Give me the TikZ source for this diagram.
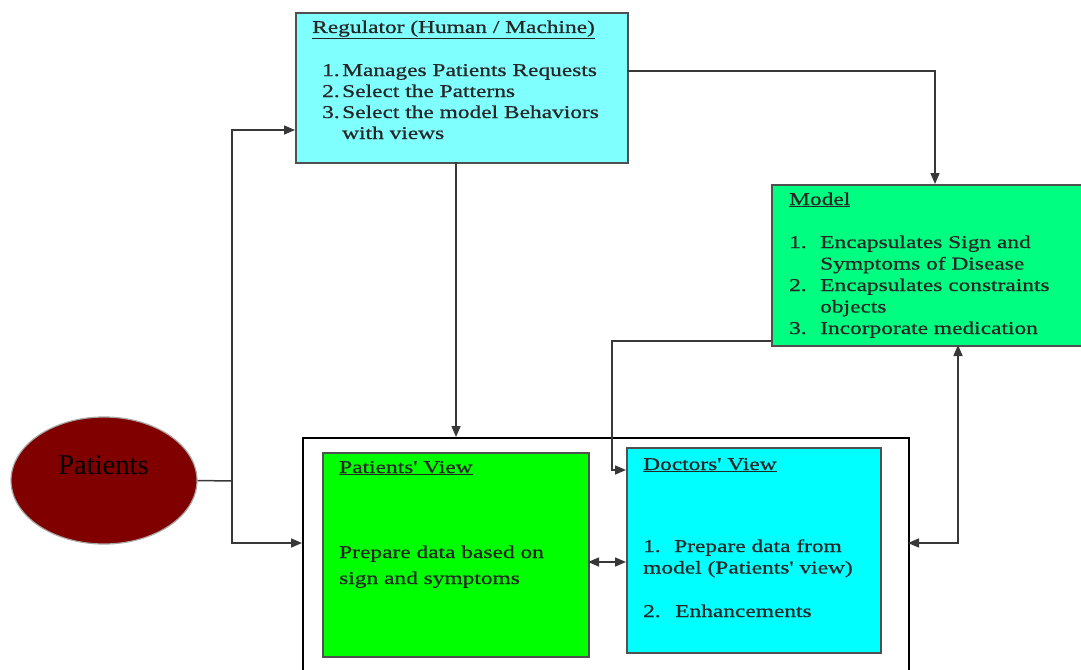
\documentclass[tikz,border=0pt]{standalone}
\usepackage{fontspec}
\setmainfont{Liberation Serif}
\newfontfamily\boxfont[FakeStretch=1.3,FakeBold=0.7]{Liberation Serif}
\usetikzlibrary{arrows.meta,shapes.geometric}
\definecolor{regfill}{HTML}{80FFFF}
\definecolor{modfill}{HTML}{00FF80}
\definecolor{pvfill}{HTML}{00FF00}
\definecolor{dvfill}{HTML}{00FFFF}
\definecolor{patfill}{HTML}{800000}
\definecolor{boxedge}{HTML}{505050}
\definecolor{linkc}{HTML}{383838}
\definecolor{ink}{HTML}{262626}
\begin{document}
\begin{tikzpicture}[x=1pt,y=-1pt,
  box/.style={draw=boxedge, line width=1.8pt, anchor=north west, inner sep=0pt},
  txt/.style={anchor=base west, inner sep=0pt, font=\boxfont\fontsize{18}{21.5}\selectfont, text=ink},
  link/.style={draw=linkc, line width=1.5pt},
  tip/.tip={Triangle[length=11pt,width=9pt]},
  arr/.style={link, -tip},
  arrs/.style={link, tip-tip}]
\clip (0,0) rectangle (1081,669);

% Regulator
\node[box, fill=regfill, minimum width=332pt, minimum height=150pt] (reg) at (295,12) {};
\node[txt] (regT) at (312,33) {\underline{Regulator (Human / Machine)}};
\node[txt] (r1n) at (322,76) {1.};
\node[txt] (r1) at (342,76) {Manages Patients Requests};
\node[txt] (r2n) at (322,97) {2.};
\node[txt] (r2) at (342,97) {Select the Patterns};
\node[txt] (r3n) at (322,118) {3.};
\node[txt] (r3) at (342,118) {Select the model Behaviors};
\node[txt] (r3b) at (342,139) {with views};

% Model
\node[box, fill=modfill, minimum width=320pt, minimum height=161pt] (mod) at (771,184) {};
\node[txt] (modT) at (789,205) {\underline{Model}};
\node[txt] (m1n) at (789,248) {1.};
\node[txt] (m1) at (820,248) {Encapsulates Sign and};
\node[txt] (m1b) at (820,269.5) {Symptoms of Disease};
\node[txt] (m2n) at (789,291) {2.};
\node[txt] (m2) at (820,291) {Encapsulates constraints};
\node[txt] (m2b) at (820,312.5) {objects};
\node[txt] (m3n) at (789,334) {3.};
\node[txt] (m3) at (820,334) {Incorporate medication};

% Patients
\node[ellipse, draw=gray!70, line width=1.2pt, fill=patfill, minimum width=186pt, minimum height=127pt, inner sep=0pt] (pat) at (104,480.5) {};
\node[anchor=base, inner sep=0pt, font=\fontsize{28.5}{30}\selectfont, text=black] (patT) at (103.5,474) {Patients};

% Views container
\node[draw=black, line width=1.5pt, anchor=north west, minimum width=606pt, minimum height=260pt, inner sep=0pt] (views) at (302,437) {};

% Patients' View
\node[box, fill=pvfill, minimum width=266pt, minimum height=204pt] (pv) at (322,452) {};
\node[txt] (pvT) at (339,473) {\underline{Patients' View}};
\node[txt] (pv1) at (339,558) {Prepare data based on};
\node[txt] (pv2) at (339,584) {sign and symptoms};

% Doctors' View
\node[box, fill=dvfill, minimum width=254pt, minimum height=205pt] (dv) at (626,447) {};
\node[txt] (dvT) at (643,470) {\underline{Doctors' View}};
\node[txt] (d1n) at (643,552) {1.};
\node[txt] (d1) at (674,552) {Prepare data from};
\node[txt] (d1b) at (643,573.5) {model (Patients' view)};
\node[txt] (d2n) at (643,617) {2.};
\node[txt] (d2) at (675,617) {Enhancements};

% connection points
\coordinate (split) at (232,481);
\coordinate (regIn) at (295,130);
\coordinate (viewsIn) at (302,543);
\coordinate (regOut) at (627,71);
\coordinate (modIn) at (935,184);
\coordinate (regDown) at (456,162);
\coordinate (viewsTop) at (456,437);
\coordinate (modOut) at (771,341);
\coordinate (bendA) at (612,470);
\coordinate (dvIn) at (626,470);
\coordinate (pvR) at (588,562);
\coordinate (dvL) at (626,562);
\coordinate (modB) at (958,345);
\coordinate (viewsR) at (908,543);

% connectors
\draw[link] (pat.east) -- (split);
\draw[arr] (split) |- (regIn);
\draw[arr] (split) |- (viewsIn);
\draw[arr] (regDown) -- (viewsTop);
\draw[arr] (regOut) -| (modIn);
\draw[arr] (modOut) -| (bendA) -- (dvIn);
\draw[arrs] (pvR) -- (dvL);
\draw[arrs] (modB) |- (viewsR);
\end{tikzpicture}
\end{document}
